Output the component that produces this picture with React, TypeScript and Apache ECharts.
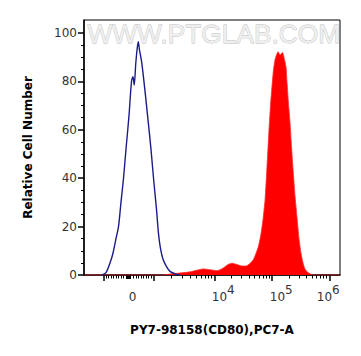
import React, { useEffect, useRef } from "react";
import * as echarts from "echarts";

// Display scale (decade units of the biexponential axis): 10^4 -> 4, 10^5 -> 5, 10^6 -> 6
const X_MIN = 1.734;
const X_MAX = 6.186;
const Y_MAX = 105.4;

// Isotype control histogram (blue outline)
const isotypeX = [2.047, 2.117, 2.186, 2.238, 2.29, 2.334, 2.377, 2.421, 2.464, 2.517, 2.56, 2.586, 2.607, 2.633, 2.656, 2.678, 2.699, 2.737, 2.795, 2.852, 2.899, 2.943, 2.995, 3.03, 3.064, 3.108, 3.169, 3.23, 3.317, 3.403];
const isotypeY = [0, 1, 5, 9, 15, 20, 30, 40, 52, 66, 80, 82, 78.5, 87, 93, 96.4, 93, 88, 76, 63, 52, 40, 27, 17, 11, 6.5, 3.5, 1.5, 0.5, 0];

// CD80 stained histogram (red filled)
const stainX = [1.734, 3.108, 3.23, 3.403, 3.577, 3.699, 3.803, 3.925, 4.047, 4.151, 4.238, 4.308, 4.395, 4.482, 4.551, 4.621, 4.682, 4.725, 4.769, 4.812, 4.847, 4.882, 4.917, 4.951, 4.977, 5.003, 5.03, 5.056, 5.082, 5.108, 5.143, 5.186, 5.221, 5.247, 5.264, 5.29, 5.317, 5.343, 5.369, 5.403, 5.438, 5.473, 5.508, 5.543, 5.577, 5.63, 5.717, 6.186];
const stainY = [0, 0, 0.4, 0.8, 1.3, 2, 2.5, 2.2, 1.8, 2.8, 4.3, 4.9, 4.3, 3.7, 3.7, 4.8, 6.5, 9, 12, 17, 23, 31, 45, 60, 70, 78, 85, 89, 91, 92.3, 91, 92, 89, 86, 80, 71, 63, 53, 44, 33, 24, 15, 9, 5, 2.5, 1, 0, 0];

// X tick values in raw fluorescence units
const xMajorTicks = [-1000, 1000, 10000, 100000, 1000000];
const xMinorTicks = [
  -900, -800, -700, -600, -500, -400, -300, -200,
  200, 300, 400, 500, 600, 700, 800, 900,
  2000, 3000, 4000, 5000, 6000, 7000, 8000, 9000,
  20000, 30000, 40000, 50000, 60000, 70000, 80000, 90000,
  200000, 300000, 400000, 500000, 600000, 700000, 800000, 900000,
];
const xZeroTick = [0];
const xLabelValues = [0, 10000, 100000, 1000000];
const xLabelTexts = ["{b0|0}", "{b4|10}{s4|4}", "{b5|10}{s5|5}", "{b6|10}{s6|6}"];

const yMajorTicks = [0, 20, 40, 60, 80, 100];
const yMinorTicks = [5, 10, 15, 25, 30, 35, 45, 50, 55, 65, 70, 75, 85, 90, 95];

const xTitle = "PY7-98158(CD80),PC7-A";
const yTitle = "Relative Cell Number";
const watermark = "WWW.PTGLAB.COM";

// biexponential-like display transform (raw value -> display decade units)
function T(v: number): number {
  const zero = 2.5078;
  const lin = 0.4313; // per 1000
  if (Math.abs(v) <= 1000) return zero + (v / 1000) * lin;
  if (v > 1000 && v <= 10000) return zero + lin + (Math.log10(v) - 3) * 1.0609;
  if (v > 10000) return Math.log10(v);
  return zero - (T(-v) - zero);
}

export default function App() {
  const ref = useRef<HTMLDivElement>(null);
  useEffect(() => {
    if (!ref.current) return;
    const chart = echarts.init(ref.current, null, { renderer: "svg" });
    const font = "DejaVu Sans";
    const labelPos = xLabelValues.map(T);
    const labelFor = (val: number) => {
      let best = 0;
      let bd = Infinity;
      labelPos.forEach((p, i) => {
        const d = Math.abs(p - val);
        if (d < bd) {
          bd = d;
          best = i;
        }
      });
      return xLabelTexts[best];
    };
    const baseTok = { fontFamily: font, fontSize: 12, color: "#333", verticalAlign: "bottom" as const };
    const commonX = {
      type: "value" as const,
      min: X_MIN,
      max: X_MAX,
      position: "bottom" as const,
      offset: 0,
      splitLine: { show: false },
    };
    const commonY = {
      type: "value" as const,
      min: 0,
      max: Y_MAX,
      position: "left" as const,
      offset: 0,
      splitLine: { show: false },
    };
    chart.setOption({
      animation: false,
      backgroundColor: "#fff",
      grid: {
        left: 84,
        right: 21,
        top: 20,
        bottom: 81,
        show: true,
        borderColor: "#000",
        borderWidth: 1,
        containLabel: false,
        outerBoundsMode: "none",
      },
      graphic: [
        {
          type: "text",
          left: 87,
          top: 21,
          z: 1,
          style: {
            text: watermark,
            fontFamily: "Liberation Sans",
            fontSize: 26.3,
            fill: "#efefef",
            stroke: "#bdbdbd",
            lineWidth: 0.8,
          },
        },
      ],
      xAxis: [
        {
          ...commonX,
          axisLine: { show: true, onZero: false, lineStyle: { color: "#000", width: 1.5 } },
          axisTick: {
            show: true,
            inside: false,
            customValues: xMajorTicks.map(T),
            length: 6,
            lineStyle: { color: "#000", width: 1.5 },
          },
          axisLabel: {
            show: true,
            customValues: labelPos,
            margin: 9,
            formatter: (v: number) => labelFor(v),
            rich: {
              b0: { ...baseTok, padding: [7, 0, 0, 8] },
              b4: { ...baseTok, padding: [7, 0, 0, 18] },
              s4: { ...baseTok, padding: [0, 0, 7, 0] },
              b5: { ...baseTok, padding: [7, 0, 0, 19] },
              s5: { ...baseTok, padding: [0, 0, 7, 0] },
              b6: { ...baseTok, padding: [7, 0, 0, 0] },
              s6: { ...baseTok, padding: [0, 2, 7, 0] },
            },
          },
          name: xTitle,
          nameLocation: "middle",
          nameGap: 49,
          nameTextStyle: { fontFamily: font, fontSize: 12, fontWeight: "bold", color: "#000" },
        },
        {
          ...commonX,
          axisLine: { show: false, onZero: false },
          axisTick: {
            show: true,
            inside: false,
            customValues: xMinorTicks.map(T),
            length: 3.5,
            lineStyle: { color: "#000", width: 1 },
          },
          axisLabel: { show: false },
        },
        {
          ...commonX,
          axisLine: { show: false, onZero: false },
          axisTick: {
            show: true,
            inside: false,
            customValues: xZeroTick.map(T),
            length: 4,
            lineStyle: { color: "#000", width: 5 },
          },
          axisLabel: { show: false },
        },
      ],
      yAxis: [
        {
          ...commonY,
          axisLine: { show: true, onZero: false, lineStyle: { color: "#000", width: 1.5 } },
          axisTick: {
            show: true,
            inside: false,
            customValues: yMajorTicks,
            length: 6,
            lineStyle: { color: "#000", width: 1.5 },
          },
          axisLabel: {
            show: true,
            customValues: yMajorTicks,
            margin: 7,
            fontFamily: font,
            fontSize: 12,
            color: "#333",
          },
          name: yTitle,
          nameLocation: "middle",
          nameGap: 50,
          nameTextStyle: { fontFamily: font, fontSize: 12, fontWeight: "bold", color: "#000" },
        },
        {
          ...commonY,
          axisLine: { show: false, onZero: false },
          axisTick: {
            show: true,
            inside: false,
            customValues: yMinorTicks,
            length: 3,
            lineStyle: { color: "#000", width: 1 },
          },
          axisLabel: { show: false },
        },
      ],
      series: [
        {
          type: "line",
          name: "CD80",
          xAxisIndex: 0,
          yAxisIndex: 0,
          data: stainX.map((x, i) => [x, stainY[i]]),
          symbol: "none",
          smooth: 0.2,
          lineStyle: { color: "#ff3030", width: 0.8 },
          areaStyle: { color: "#ff0000", opacity: 1 },
          z: 3,
        },
        {
          type: "line",
          name: "Isotype",
          xAxisIndex: 0,
          yAxisIndex: 0,
          data: isotypeX.map((x, i) => [x, isotypeY[i]]),
          symbol: "none",
          smooth: 0.3,
          lineStyle: { color: "#1b1b8a", width: 1.4 },
          z: 4,
        },
      ],
    });
    return () => chart.dispose();
  }, []);
  return (
    <div
      ref={ref}
      style={{ position: "fixed", left: 0, top: 0, width: 361, height: 356 }}
    />
  );
}
